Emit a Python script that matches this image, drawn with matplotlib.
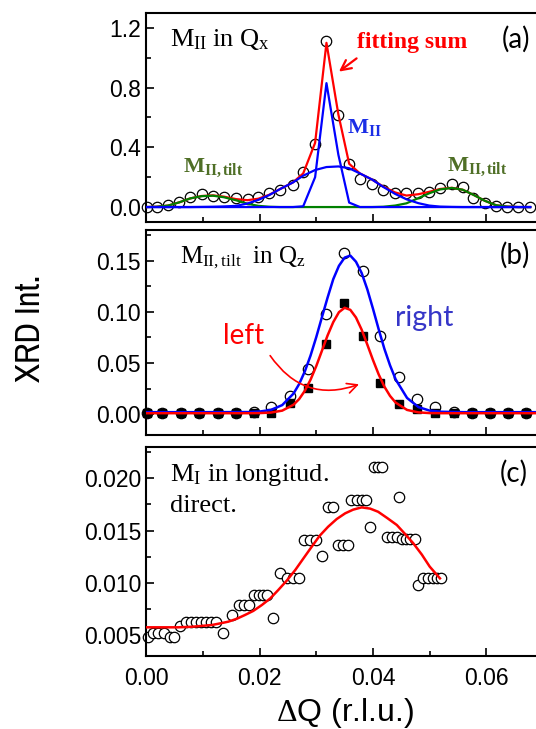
import matplotlib
matplotlib.use('Agg')
import matplotlib.pyplot as plt
from matplotlib.ticker import MultipleLocator, FormatStrFormatter
from matplotlib import font_manager as fm

plt.rcParams['mathtext.fontset'] = 'custom'
plt.rcParams['mathtext.rm'] = 'Liberation Serif'
plt.rcParams['mathtext.it'] = 'Liberation Serif:italic'
plt.rcParams['mathtext.bf'] = 'Liberation Serif:bold'
plt.rcParams['font.family'] = ['Liberation Sans', 'DejaVu Sans']

# ---------------- Panel (a): M_II in Qx ----------------
qa = [0.0001, 0.0019, 0.0039, 0.0059, 0.0078, 0.0098, 0.0118, 0.0137, 0.0159, 0.0179,
      0.0198, 0.0217, 0.0236, 0.0259, 0.0277, 0.0298, 0.0318, 0.0339, 0.0358, 0.0377,
      0.0398, 0.0418, 0.0439, 0.0459, 0.0480, 0.0499, 0.0518, 0.0539, 0.0558, 0.0577,
      0.0597, 0.0617, 0.0636, 0.0656, 0.0677]
ia = [0.002, 0.002, 0.011, 0.033, 0.066, 0.088, 0.074, 0.065, 0.058, 0.051,
      0.069, 0.091, 0.115, 0.147, 0.234, 0.422, 1.112, 0.616, 0.290, 0.185,
      0.154, 0.114, 0.096, 0.092, 0.092, 0.103, 0.125, 0.154, 0.136, 0.062,
      0.030, 0.005, 0.002, 0.002, 0.002]
fit_sum_a = [0.0, 0.002, 0.010, 0.032, 0.058, 0.074, 0.078, 0.070, 0.053, 0.046,
             0.056, 0.082, 0.120, 0.165, 0.225, 0.430, 1.100, 0.620, 0.290, 0.225,
             0.185, 0.137, 0.098, 0.077, 0.086, 0.102, 0.121, 0.129, 0.116, 0.082,
             0.042, 0.012, 0.003, 0.0, 0.0]
m2_narrow = [0, 0, 0, 0, 0, 0, 0, 0, 0, 0,
             0, 0, 0, 0, 0.005, 0.200, 0.830, 0.350, 0.030, 0,
             0, 0, 0, 0, 0, 0, 0, 0, 0, 0,
             0, 0, 0, 0, 0]
m2_broad = [0, 0, 0, 0, 0, 0.001, 0.002, 0.004, 0.008, 0.024,
            0.048, 0.080, 0.120, 0.165, 0.210, 0.248, 0.268, 0.272, 0.260, 0.225,
            0.185, 0.135, 0.088, 0.052, 0.026, 0.010, 0.003, 0.001, 0, 0,
            0, 0, 0, 0, 0]
m2_tilt = [0.0, 0.002, 0.010, 0.032, 0.058, 0.073, 0.076, 0.066, 0.045, 0.022,
           0.008, 0.002, 0, 0, 0, 0, 0, 0, 0, 0,
           0, 0.002, 0.010, 0.025, 0.060, 0.092, 0.118, 0.128, 0.116, 0.082,
           0.042, 0.012, 0.003, 0, 0]

# ---------------- Panel (b): M_II,tilt in Qz ----------------
qb = [0.0001, 0.0029, 0.0061, 0.0094, 0.0126, 0.0159, 0.0190, 0.0221, 0.0254, 0.0286,
      0.0318, 0.0349, 0.0382, 0.0413, 0.0445, 0.0477, 0.0509, 0.0542, 0.0574, 0.0606,
      0.0638, 0.0670]
left_b = [0.001, 0.001, 0.001, 0.001, 0.001, 0.001, 0.001, 0.001, 0.0113, 0.0253,
          0.0685, 0.1085, 0.0763, 0.0308, 0.0100, 0.0050, 0.0015, 0.001, 0.001, 0.001,
          0.001, 0.001]
right_b = [0.0016, 0.0016, 0.0016, 0.0016, 0.0016, 0.0016, 0.0020, 0.0074, 0.0180, 0.0445,
           0.0984, 0.1578, 0.1395, 0.0765, 0.0365, 0.0150, 0.0075, 0.0026, 0.0016, 0.0016,
           0.0016, 0.0016]
qb_fit = [0.0, 0.010, 0.018, 0.020, 0.022, 0.024, 0.026, 0.027, 0.028, 0.029,
          0.030, 0.031, 0.032, 0.033, 0.034, 0.035, 0.036, 0.037, 0.038, 0.039,
          0.040, 0.041, 0.042, 0.043, 0.044, 0.046, 0.048, 0.050, 0.052, 0.056, 0.070]
left_fit = [0.001, 0.001, 0.001, 0.0011, 0.0016, 0.0035, 0.0093, 0.0149, 0.023, 0.0338,
            0.047, 0.062, 0.077, 0.090, 0.0997, 0.104, 0.102, 0.0945, 0.0826, 0.068,
            0.0529, 0.0389, 0.027, 0.0179, 0.0113, 0.0042, 0.0018, 0.0011, 0.001, 0.001, 0.001]
right_fit = [0.002, 0.002, 0.0021, 0.0026, 0.0042, 0.0089, 0.0202, 0.0296, 0.042, 0.0574,
             0.0753, 0.0948, 0.114, 0.132, 0.145, 0.153, 0.155, 0.149, 0.138, 0.122,
             0.103, 0.083, 0.064, 0.0478, 0.034, 0.0159, 0.007, 0.0035, 0.0024, 0.002, 0.002]

# ---------------- Panel (c): M_I longitudinal ----------------
qc = [0.0003, 0.0013, 0.0022, 0.0031, 0.0043, 0.0050, 0.0060, 0.0070, 0.0079, 0.0088,
      0.0097, 0.0106, 0.0115, 0.0124, 0.0136, 0.0151, 0.0164, 0.0173, 0.0182, 0.0190,
      0.0199, 0.0207, 0.0214, 0.0223, 0.0236, 0.0248, 0.0259, 0.0269, 0.0279, 0.0289,
      0.0299, 0.0310, 0.0321, 0.0330, 0.0338, 0.0347, 0.0356, 0.0362, 0.0371, 0.0380,
      0.0387, 0.0394, 0.0401, 0.0409, 0.0415, 0.0425, 0.0433, 0.0442, 0.0445, 0.0451,
      0.0458, 0.0465, 0.0474, 0.0480, 0.0489, 0.0497, 0.0505, 0.0512, 0.0520]
ic = [0.0048, 0.0052, 0.0052, 0.0052, 0.0048, 0.0048, 0.0059, 0.0062, 0.0062, 0.0062,
      0.0062, 0.0062, 0.0062, 0.0062, 0.0052, 0.0069, 0.0079, 0.0079, 0.0079, 0.0088,
      0.0088, 0.0088, 0.0088, 0.0066, 0.0109, 0.0105, 0.0105, 0.0105, 0.0141, 0.0141,
      0.0141, 0.0126, 0.0173, 0.0173, 0.0136, 0.0136, 0.0136, 0.0179, 0.0179, 0.0179,
      0.0179, 0.0153, 0.0211, 0.0211, 0.0211, 0.0144, 0.0144, 0.0144, 0.0182, 0.0142,
      0.0142, 0.0142, 0.0142, 0.0098, 0.0105, 0.0105, 0.0105, 0.0105, 0.0105]
qc_fit = [0.0, 0.0057, 0.0080, 0.0116, 0.0130, 0.0145, 0.0160, 0.0174, 0.0189, 0.0204,
          0.0219, 0.0233, 0.0248, 0.0263, 0.0277, 0.0292, 0.0306, 0.0321, 0.0336, 0.0351,
          0.0365, 0.0380, 0.0395, 0.0409, 0.0425, 0.0442, 0.0456, 0.0471, 0.0486, 0.0500,
          0.0518]
ic_fit = [0.00573, 0.00573, 0.00578, 0.00595, 0.0061, 0.00627, 0.00655, 0.0069, 0.0073, 0.00786,
          0.0085, 0.0093, 0.0102, 0.01122, 0.0123, 0.01345, 0.0145, 0.01537, 0.0161, 0.01665,
          0.0170, 0.01722, 0.0171, 0.0168, 0.0162, 0.01553, 0.0147, 0.01378, 0.0127, 0.01154,
          0.01042]

RED = '#ff0000'
BLUE = '#0000ff'
GREEN = '#008000'
OLIVE = '#4f6f26'

# pick a condensed sans font for the y label if one is installed
ylab_family, ylab_stretch = ['Roboto', 'DejaVu Sans'], 'normal'
_fonts = fm.fontManager.ttflist
_narrow = [f for f in _fonts if ('Narrow' in f.name or 'Condensed' in f.name)]
_cond = [f for f in _fonts if str(f.stretch) in ('condensed', 'semi-condensed', 'extra-condensed', '75', '87')]
if any(f.name == 'Liberation Sans Narrow' for f in _narrow):
    ylab_family = ['Liberation Sans Narrow', 'DejaVu Sans']
elif _narrow:
    ylab_family = [_narrow[0].name, 'DejaVu Sans']
elif _cond:
    ylab_family = [_cond[0].name, 'DejaVu Sans']
    ylab_stretch = 'condensed'

fig = plt.figure(figsize=(5.36, 7.29), dpi=100)
L, W = 0.2724, 0.7411
ax_a = fig.add_axes([L, 0.6955, W, 0.2867])
ax_b = fig.add_axes([L, 0.4033, W, 0.2812])
ax_c = fig.add_axes([L, 0.1001, W, 0.2867])

for ax in (ax_a, ax_b, ax_c):
    ax.set_xlim(0, 0.07)
    ax.xaxis.set_major_locator(MultipleLocator(0.02))
    ax.xaxis.set_minor_locator(MultipleLocator(0.01))
    ax.tick_params(which='both', direction='in', top=False, right=False,
                   width=1.2, labelsize=16.5)
    ax.tick_params(which='major', length=6)
    ax.tick_params(which='minor', length=3.5)
    for s in ax.spines.values():
        s.set_linewidth(1.5)

mk_circle = dict(marker='o', ms=7.5, mfc='white', mec='black', mew=0.9, ls='none', clip_on=False)

# Panel a
ax_a.plot(qa, ia, zorder=2, **mk_circle)
ax_a.plot(qa, fit_sum_a, color=RED, lw=1.6, zorder=3)
ax_a.plot(qa, m2_tilt, color=GREEN, lw=1.6, zorder=4)
ax_a.plot(qa, m2_broad, color=BLUE, lw=1.6, zorder=5)
ax_a.plot(qa, m2_narrow, color=BLUE, lw=1.6, zorder=5)
ax_a.set_ylim(-0.1, 1.3)
ax_a.yaxis.set_major_locator(MultipleLocator(0.4))
ax_a.yaxis.set_minor_locator(MultipleLocator(0.2))
ax_a.yaxis.set_major_formatter(FormatStrFormatter('%.1f'))
ax_a.tick_params(labelbottom=False)

ax_a.text(0.0042, 1.12, r'$\mathrm{M_{II}\ in\ Q_x}$', fontsize=19, va='center', ha='left')
ax_a.text(0.0372, 1.10, 'fitting sum', color=RED, fontsize=17, fontweight='bold',
          family='Liberation Serif', va='center', ha='left')
ax_a.annotate('', xy=(0.0336, 0.896), xytext=(0.0375, 1.007),
              arrowprops=dict(arrowstyle='->', color=RED, lw=1.6, mutation_scale=18))
ax_a.text(0.0354, 0.53, r'$\mathbf{M_{II}}$', color='#1a2ee6', fontsize=16, va='center', ha='left')
ax_a.text(0.0065, 0.26, r'$\mathbf{M_{II,tilt}}$', color=OLIVE, fontsize=16, va='center', ha='left')
ax_a.text(0.0530, 0.268, r'$\mathbf{M_{II,tilt}}$', color=OLIVE, fontsize=16, va='center', ha='left')
ax_a.text(0.0627, 1.126, '(a)', fontsize=20, family=['Lato', 'DejaVu Sans'], va='center', ha='left')

# Panel b
ax_b.plot(qb, right_b, zorder=2, **mk_circle)
ax_b.plot(qb, left_b, marker='s', ms=6, mfc='black', mec='black', ls='none', zorder=2, clip_on=False)
ax_b.plot(qb_fit, right_fit, color=BLUE, lw=1.8, zorder=3)
ax_b.plot(qb_fit, left_fit, color=RED, lw=1.8, zorder=3)
ax_b.set_ylim(-0.0203, 0.18)
ax_b.yaxis.set_major_locator(MultipleLocator(0.05))
ax_b.yaxis.set_minor_locator(MultipleLocator(0.025))
ax_b.yaxis.set_major_formatter(FormatStrFormatter('%.2f'))
ax_b.tick_params(labelbottom=False)

ax_b.text(0.0060, 0.153, r'$\mathrm{M_{II,tilt}\ \ in\ Q_z}$', fontsize=18, va='center', ha='left')
ax_b.text(0.0624, 0.155, '(b)', fontsize=20, family=['Lato', 'DejaVu Sans'], va='center', ha='left')
ax_b.text(0.0136, 0.076, 'left', color=RED, fontsize=20, family=['Lato', 'DejaVu Sans'],
          va='center', ha='left')
ax_b.text(0.0439, 0.094, 'right', color='#3636c8', fontsize=20.5, family=['Lato', 'DejaVu Sans'],
          va='center', ha='left')
ax_b.annotate('', xy=(0.0380, 0.0302), xytext=(0.0216, 0.0595),
              arrowprops=dict(arrowstyle='->', color=RED, lw=1.2, mutation_scale=18,
                              connectionstyle='arc3,rad=0.4'))

# Panel c
ax_c.plot(qc, ic, zorder=2, **mk_circle)
ax_c.plot(qc_fit, ic_fit, color=RED, lw=1.8, zorder=3)
ax_c.set_ylim(0.00298, 0.023)
ax_c.yaxis.set_major_locator(MultipleLocator(0.005))
ax_c.yaxis.set_minor_locator(MultipleLocator(0.0025))
ax_c.yaxis.set_major_formatter(FormatStrFormatter('%.3f'))
ax_c.xaxis.set_major_formatter(FormatStrFormatter('%.2f'))
ax_c.tick_params(axis='x', pad=8)

ax_c.text(0.0042, 0.02032, r'$\mathrm{M_I}$ in longitud.', fontsize=19,
          family='Liberation Serif', va='center', ha='left')
ax_c.text(0.0042, 0.01735, 'direct.', fontsize=19, family='Liberation Serif', va='center', ha='left')
ax_c.text(0.0624, 0.0205, '(c)', fontsize=20, family=['Lato', 'DejaVu Sans'], va='center', ha='left')
ax_c.set_xlabel(r'$\Delta$Q (r.l.u.)', fontsize=23, labelpad=4)

fig.text(0.056, 0.55, 'XRD Int.', rotation=90, fontsize=25,
         family=ylab_family, stretch=ylab_stretch, va='center', ha='center')

fig.savefig('out.png', dpi=100)
